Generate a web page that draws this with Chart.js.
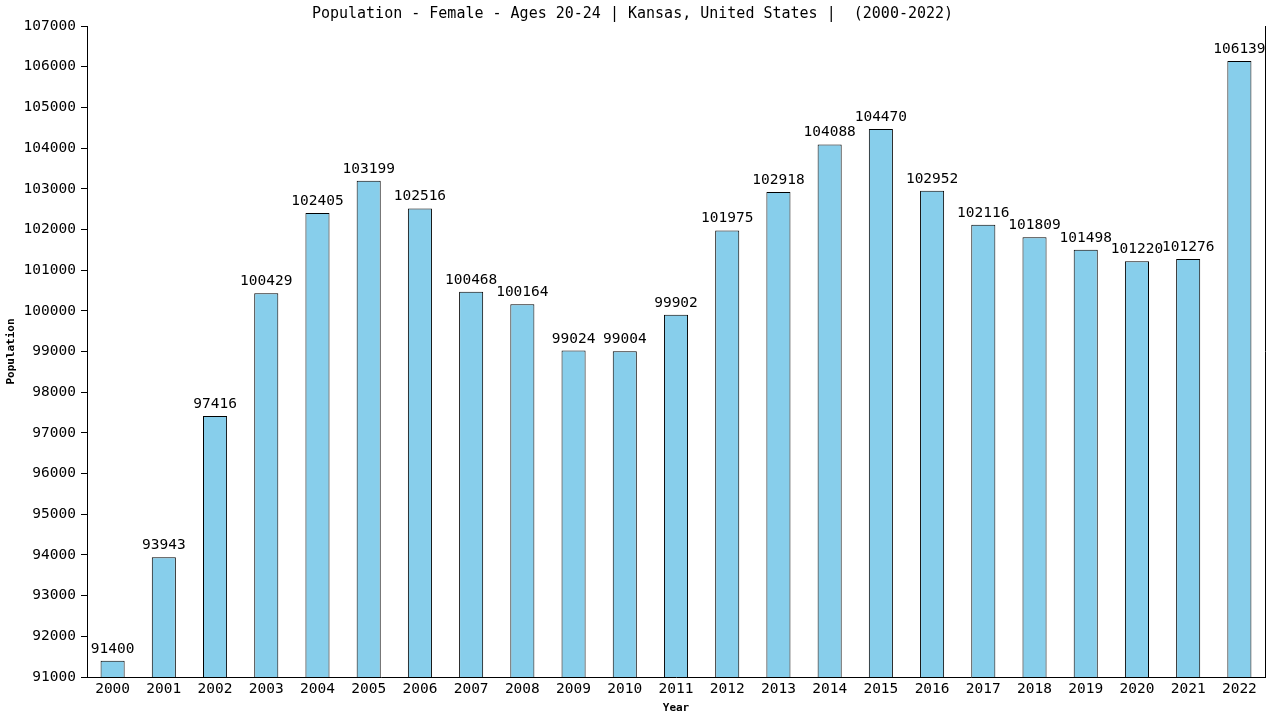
<!DOCTYPE html>
<html>
<head>
<meta charset="utf-8">
<script src="https://cdn.jsdelivr.net/npm/chart.js@4"></script>
<style>
  html, body { margin: 0; padding: 0; background: #fff; }
  #wrap { width: 1280px; height: 720px; }
</style>
</head>
<body>
<div id="wrap"><canvas id="chart" width="1280" height="720"></canvas></div>
<script>
// Female population, ages 20-24, Kansas
const years = ['2000','2001','2002','2003','2004','2005','2006','2007','2008','2009','2010','2011',
               '2012','2013','2014','2015','2016','2017','2018','2019','2020','2021','2022'];
const population = [91400, 93943, 97416, 100429, 102405, 103199, 102516, 100468, 100164, 99024, 99004, 99902,
                    101975, 102918, 104088, 104470, 102952, 102116, 101809, 101498, 101220, 101276, 106139];
const yMin = 91000;
const yMax = 107000;
const yStep = 1000;

const FONT = "'DejaVu Sans Mono', monospace";

// value labels above each bar + closing line on the right of the plot
const barLabels = {
  id: 'barLabels',
  afterDatasetsDraw(chart) {
    const ctx = chart.ctx;
    const meta = chart.getDatasetMeta(0);
    ctx.save();
    ctx.font = '14.5px ' + FONT;
    ctx.fillStyle = '#000';
    ctx.textAlign = 'center';
    ctx.textBaseline = 'alphabetic';
    meta.data.forEach((bar, i) => {
      ctx.fillText(String(population[i]), bar.x, bar.y - 8);
    });
    const a = chart.chartArea;
    ctx.strokeStyle = '#000';
    ctx.lineWidth = 1;
    ctx.beginPath();
    ctx.moveTo(Math.round(a.right) + 0.5, a.top);
    ctx.lineTo(Math.round(a.right) + 0.5, a.bottom);
    ctx.stroke();
    ctx.restore();
  }
};

new Chart(document.getElementById('chart'), {
  type: 'bar',
  data: {
    labels: years,
    datasets: [{
      data: population,
      backgroundColor: '#87CEEB',
      borderColor: '#000',
      borderWidth: 1,
      barPercentage: 0.47,
      categoryPercentage: 1,
    }],
  },
  options: {
    responsive: false,
    animation: false,
    layout: { padding: { left: 0, right: 15, top: 0, bottom: 1 } },
    plugins: {
      legend: { display: false },
      tooltip: { enabled: false },
      title: {
        display: true,
        text: 'Population - Female - Ages 20-24 | Kansas, United States |  (2000-2022)',
        color: '#000',
        font: { family: FONT, size: 15, weight: 'normal', lineHeight: 1.2 },
        padding: { top: 5, bottom: 3 },
      },
    },
    scales: {
      x: {
        offset: true,
        afterFit(scale) { scale.height = 42; },
        grid: { display: true, drawOnChartArea: false, drawTicks: false },
        border: { display: true, color: '#000', width: 1 },
        ticks: { color: '#000', padding: 4, font: { family: FONT, size: 14.5 }, maxRotation: 0 },
        title: {
          display: true, text: 'Year', color: '#000',
          font: { family: FONT, size: 11, weight: 'bold', lineHeight: 1.2 },
          padding: { top: 0, bottom: 4 },
        },
      },
      y: {
        min: yMin,
        max: yMax,
        afterFit(scale) { scale.width = 87; },
        grid: { display: true, drawOnChartArea: false, drawTicks: true, tickLength: 6, color: '#000' },
        border: { display: true, color: '#000', width: 1 },
        ticks: {
          stepSize: yStep, color: '#000', padding: 5, font: { family: FONT, size: 14.5 },
          callback: v => String(v),
        },
        title: {
          display: true, text: 'Population', color: '#000',
          font: { family: FONT, size: 11, weight: 'bold', lineHeight: 1.2 },
          padding: { top: 5, bottom: 5 },
        },
      },
    },
  },
  plugins: [barLabels],
});
</script>
</body>
</html>
